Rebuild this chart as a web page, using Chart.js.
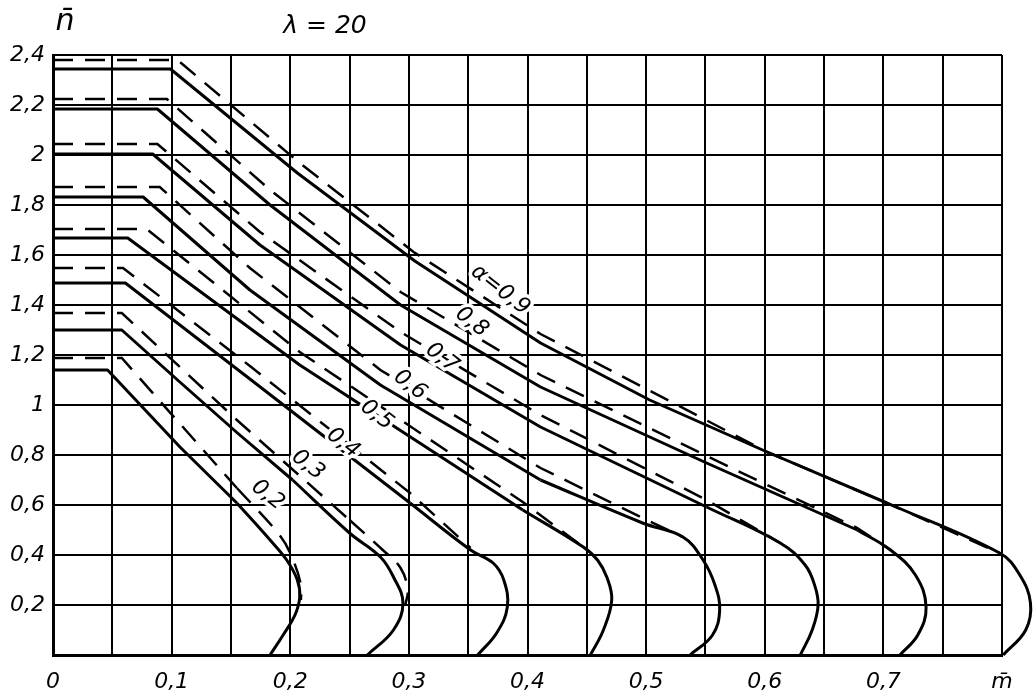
<!DOCTYPE html>
<html lang="ru">
<head>
<meta charset="UTF-8" />
<title>n - m, lambda = 20</title>
<script src="https://cdn.jsdelivr.net/npm/chart.js"></script>
<style>
  html, body { margin: 0; background: #fff; }
</style>
</head>
<body>
<canvas id="chart" width="1034" height="700"></canvas>
<script>
// tick labels (comma decimals as on the original drawing)
const xTickLabels = ['0', '', '0,1', '', '0,2', '', '0,3', '', '0,4', '', '0,5', '', '0,6', '', '0,7', '', 'm\u0304'];
const yTickLabels = ['', '0,2', '0,4', '0,6', '0,8', '1', '1,2', '1,4', '1,6', '1,8', '2', '2,2', '2,4'];

// solid curves, [m, n]
const solid02 = [[0, 1.14], [0.046, 1.14], [0.107, 0.832], [0.155, 0.608], [0.183, 0.46], [0.197, 0.38], [0.206, 0.30], [0.208, 0.232], [0.204, 0.16], [0.194, 0.08], [0.183, 0]];
const solid03 = [[0, 1.30], [0.058, 1.30], [0.105, 1.10], [0.155, 0.89], [0.202, 0.70], [0.25, 0.488], [0.276, 0.392], [0.287, 0.312], [0.295, 0.208], [0.287, 0.10], [0.265, 0]];
const solid04 = [[0, 1.488], [0.061, 1.488], [0.166, 1.104], [0.301, 0.608], [0.352, 0.42], [0.371, 0.368], [0.380, 0.30], [0.383, 0.192], [0.374, 0.088], [0.358, 0]];
const solid05 = [[0, 1.668], [0.063, 1.668], [0.208, 1.16], [0.396, 0.58], [0.447, 0.432], [0.459, 0.38], [0.467, 0.31], [0.471, 0.22], [0.464, 0.10], [0.453, 0]];
const solid06 = [[0, 1.832], [0.076, 1.832], [0.166, 1.46], [0.276, 1.08], [0.411, 0.70], [0.497, 0.528], [0.531, 0.472], [0.548, 0.38], [0.558, 0.28], [0.562, 0.18], [0.556, 0.08], [0.537, 0]];
const solid07 = [[0, 2.004], [0.084, 2.004], [0.1745, 1.64], [0.293, 1.24], [0.411, 0.912], [0.551, 0.592], [0.613, 0.448], [0.634, 0.36], [0.642, 0.28], [0.645, 0.20], [0.640, 0.10], [0.630, 0]];
const solid08 = [[0, 2.184], [0.088, 2.184], [0.183, 1.80], [0.293, 1.40], [0.411, 1.072], [0.551, 0.768], [0.678, 0.50], [0.706, 0.42], [0.727, 0.32], [0.736, 0.192], [0.729, 0.08], [0.714, 0]];
const solid09 = [[0, 2.344], [0.099, 2.344], [0.206, 1.928], [0.305, 1.576], [0.411, 1.248], [0.503, 1.02], [0.602, 0.812], [0.703, 0.608], [0.798, 0.408], [0.815, 0.32], [0.824, 0.208], [0.820, 0.10], [0.801, 0]];

// dashed companions
const dashed02 = [[0, 1.188], [0.058, 1.188], [0.155, 0.668], [0.191, 0.48], [0.201, 0.396], [0.209, 0.28], [0.209, 0.22]];
const dashed03 = [[0, 1.368], [0.058, 1.368], [0.155, 0.94], [0.25, 0.54], [0.278, 0.42], [0.293, 0.348], [0.299, 0.26], [0.297, 0.20]];
const dashed04 = [[0, 1.548], [0.059, 1.548], [0.166, 1.156], [0.301, 0.648], [0.352, 0.428]];
const dashed05 = [[0, 1.704], [0.079, 1.704], [0.208, 1.212], [0.396, 0.612], [0.447, 0.432]];
const dashed06 = [[0, 1.872], [0.090, 1.872], [0.166, 1.548], [0.276, 1.14], [0.411, 0.748], [0.497, 0.548], [0.531, 0.472]];
const dashed07 = [[0, 2.044], [0.088, 2.044], [0.1745, 1.692], [0.293, 1.292], [0.411, 0.96], [0.551, 0.62], [0.613, 0.448]];
const dashed08 = [[0, 2.224], [0.096, 2.224], [0.183, 1.86], [0.293, 1.452], [0.411, 1.12], [0.551, 0.796], [0.678, 0.508], [0.706, 0.42]];
const dashed09 = [[0, 2.38], [0.105, 2.38], [0.208, 1.968], [0.304, 1.612], [0.411, 1.284], [0.523, 1.008], [0.602, 0.812], [0.703, 0.608], [0.798, 0.408]];

// index where the rounded end part of each curve starts (-1 = none)
const solidBendFrom = [3, 4, 3, 3, 4, 5, 6, 7];
const dashedBendFrom = [2, 3, -1, -1, -1, -1, -1, -1];

// curve labels and where they sit (m, n)
const curveLabels = ['0,2', '0,3', '0,4', '0,5', '0,6', '0,7', '0,8', '\u03b1=0,9'];
const curveLabelAt = [[0.181, 0.64], [0.215, 0.76], [0.2445, 0.848], [0.273, 0.96], [0.301, 1.08], [0.328, 1.188], [0.353, 1.332], [0.377, 1.46]];

const solids = [solid02, solid03, solid04, solid05, solid06, solid07, solid08, solid09];
const dashes = [dashed02, dashed03, dashed04, dashed05, dashed06, dashed07, dashed08, dashed09];

const toXY = arr => arr.map(p => ({ x: p[0], y: p[1] }));

// straight part with no smoothing, rounded part smoothed
function addCurve(list, arr, from, style) {
  const straight = from < 0 ? arr : arr.slice(0, from + 1);
  list.push(Object.assign({ data: toXY(straight), tension: 0 }, style));
  if (from >= 0) {
    list.push(Object.assign({ data: toXY(arr.slice(from)), tension: 0.4 }, style));
  }
}

const solidStyle = { showLine: true, borderColor: '#000', borderWidth: 3, pointRadius: 0, clip: false, borderJoinStyle: 'round' };
const dashStyle = { showLine: true, borderColor: '#000', borderWidth: 2.5, borderDash: [20, 12], pointRadius: 0, clip: false };

const datasets = [];
solids.forEach((c, i) => {
  addCurve(datasets, c, solidBendFrom[i], solidStyle);
  addCurve(datasets, dashes[i], dashedBendFrom[i], dashStyle);
});

// text that is not an axis tick: n-bar, lambda and the curve labels
const notes = {
  id: 'notes',
  afterDatasetsDraw(chart) {
    const ctx = chart.ctx;
    const xs = chart.scales.x, ys = chart.scales.y;
    ctx.save();
    ctx.fillStyle = '#000';
    ctx.textAlign = 'center';
    ctx.textBaseline = 'middle';
    ctx.font = 'italic 30px "DejaVu Sans"';
    ctx.fillText('n\u0304', 65, 22);
    ctx.font = 'italic 25px "DejaVu Sans"';
    ctx.fillText('\u03bb = 20', 325, 26);

    ctx.font = 'italic 22px "DejaVu Sans"';
    curveLabels.forEach((t, i) => {
      const px = xs.getPixelForValue(curveLabelAt[i][0]);
      const py = ys.getPixelForValue(curveLabelAt[i][1]);
      ctx.save();
      ctx.translate(px, py);
      ctx.rotate(38 * Math.PI / 180);
      ctx.strokeStyle = '#fff';
      ctx.lineWidth = 7;
      ctx.strokeText(t, 0, 0);
      ctx.fillText(t, 0, 0);
      ctx.restore();
    });
    ctx.restore();
  }
};

new Chart(document.getElementById('chart'), {
  type: 'scatter',
  data: { datasets },
  options: {
    responsive: false,
    animation: false,
    devicePixelRatio: 1,
    layout: { padding: { top: 55, right: 32, left: 0, bottom: 0 } },
    plugins: { legend: { display: false }, tooltip: { enabled: false } },
    scales: {
      x: {
        type: 'linear', min: 0, max: 0.8,
        grid: { color: '#000', lineWidth: 2, drawTicks: false },
        border: { color: '#000', width: 3 },
        ticks: {
          stepSize: 0.05, padding: 14, color: '#000', autoSkip: false, maxRotation: 0,
          font: { family: 'DejaVu Sans', size: 22, style: 'italic' },
          callback: (v, i) => xTickLabels[i]
        },
        afterFit: s => { s.height = 45; }
      },
      y: {
        type: 'linear', min: 0, max: 2.4,
        grid: { color: '#000', lineWidth: 2, drawTicks: false },
        border: { color: '#000', width: 3 },
        ticks: {
          stepSize: 0.2, padding: 8, color: '#000', autoSkip: false,
          font: { family: 'DejaVu Sans', size: 22, style: 'italic' },
          callback: (v, i) => yTickLabels[i]
        },
        afterFit: s => { s.width = 53; }
      }
    }
  },
  plugins: [notes]
});
</script>
</body>
</html>
